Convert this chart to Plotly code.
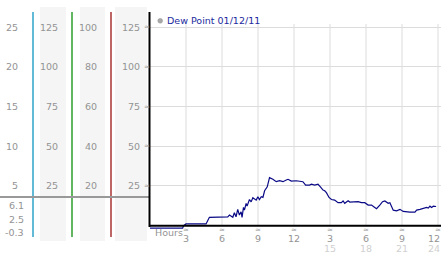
import plotly.graph_objects as go

# ---- data ----
hours = [0, 2.72, 2.8, 3.0, 4.67, 4.95, 6.48, 6.62, 6.9, 7.03, 7.17, 7.31, 7.45, 7.59, 7.67, 7.79,
         7.87, 8.01, 8.09, 8.29, 8.43, 8.57, 8.85, 8.99, 9.12, 9.27, 9.41, 9.55, 9.77, 9.96, 10.24,
         10.52, 10.8, 11.08, 11.36, 11.5, 11.78, 12.05, 12.19, 12.74, 12.97, 13.3, 13.45, 13.72,
         14.0, 14.2, 14.42, 14.56, 14.7, 14.92, 15.12, 15.39, 15.67, 15.95, 16.09, 16.23, 16.51,
         16.65, 17.06, 17.34, 17.62, 17.9, 18.18, 18.46, 18.73, 18.88, 19.15, 19.38, 19.57, 19.85,
         19.99, 20.13, 20.27, 20.55, 20.83, 21.1, 21.38, 21.66, 22.08, 22.22, 22.5, 22.77, 23.05,
         23.19, 23.33, 23.47, 23.61, 23.84]
dew_point = [-1.5, -1.5, 0, 1.1, 1.1, 5.3, 5.6, 6.7, 5.3, 8.2, 5.6, 10.3, 6.7, 8.8, 5.3, 11.5,
             9.8, 14, 12.3, 16.5, 15, 17.6, 16.1, 18.2, 16.5, 18.2, 17.8, 22, 24.5, 30.2, 29.2,
             27.7, 28.3, 27.7, 28.8, 29.2, 28.1, 28.3, 28.3, 27.7, 25.6, 25.6, 26.1, 25.6,
             26.1, 24.5, 22.4, 22, 20.8, 17.8, 16.5, 16.1, 14.5, 14.5, 15.6, 14.1, 15.7,
             14.9, 14.9, 15.1, 14.5, 14.5, 13.0, 13.0, 11.5, 10.7, 13.0, 15.1, 15.6, 14.1,
             14.5, 11.5, 9.8, 9.4, 10.3, 9.0, 8.6, 8.6, 8.6, 9.8, 10.3, 10.7, 11.5,
             11.1, 12.3, 11.5, 12.3, 12.1]

grid_vals = [25, 50, 75, 100, 125]
col1_labels = ["5", "10", "15", "20", "25"]
col2_labels = ["25", "50", "75", "100", "125"]
col3_labels = ["20", "40", "60", "80", "100"]
col4_labels = ["25", "50", "75", "100", "125"]
extra_labels = ["6.1", "2.5", "-0.3"]
hour_ticks = [3, 6, 9, 12, 15, 18, 21, 24]
hour_labels = ["3", "6", "9", "12", "3", "6", "9", "12"]
hour_labels2 = ["15", "18", "21", "24"]
series_name = "Dew Point 01/12/11"

W, H = 442, 253
def py(px):
    return (H - px) / H
def pxx(px):
    return px / W

FONT = "DejaVu Sans"
GREY = "#939393"

fig = go.Figure()
fig.add_trace(go.Scatter(x=hours, y=dew_point, mode="lines",
                         line=dict(color="#0a0a86", width=1.2), showlegend=False,
                         cliponaxis=False))

shapes = []
annots = []

# left column backgrounds
for x0, x1 in [(40, 66), (80, 105), (115, 147)]:
    shapes.append(dict(type="rect", xref="paper", yref="paper", x0=pxx(x0), x1=pxx(x1),
                       y0=py(241), y1=py(7), fillcolor="#f5f5f5", line=dict(width=0), layer="below"))
# coloured vertical lines
for xp, col in [(33, "#2fa3c8"), (72, "#2e9e2e"), (111, "#a83232")]:
    shapes.append(dict(type="line", xref="paper", yref="paper", x0=pxx(xp), x1=pxx(xp),
                       y0=py(237), y1=py(12), line=dict(color=col, width=1.5)))
# separator
shapes.append(dict(type="line", xref="paper", yref="paper", x0=0, x1=pxx(150),
                   y0=py(197), y1=py(197), line=dict(color="#999999", width=2)))
# vertical grid lines
for h in hour_ticks:
    shapes.append(dict(type="line", xref="x", yref="y", x0=h, x1=h, y0=0, y1=126.9,
                       line=dict(color="#dcdcdc", width=1), layer="below"))
# axes
shapes.append(dict(type="line", xref="paper", yref="paper", x0=pxx(149.5), x1=pxx(149.5),
                   y0=py(227), y1=py(12), line=dict(color="black", width=2)))
shapes.append(dict(type="line", xref="x", yref="y", x0=0, x1=24.25, y0=0, y1=0,
                   line=dict(color="black", width=2)))
# legend marker
shapes.append(dict(type="circle", xref="paper", yref="paper", x0=pxx(157.8), x1=pxx(162.6),
                   y0=py(23.2), y1=py(18.4), fillcolor="#a8a8a8", line=dict(color="#909090", width=0.5)))

def txt(x, y, s, xref="paper", yref="paper", xanchor="right", color=GREY, size=9.5):
    annots.append(dict(x=x, y=y, xref=xref, yref=yref, text=s, showarrow=False,
                       xanchor=xanchor, yanchor="middle", font=dict(family=FONT, size=size, color=color)))

for v, a, b, c, d in zip(grid_vals, col1_labels, col2_labels, col3_labels, col4_labels):
    txt(pxx(20), v, a, yref="y")
    txt(pxx(60), v, b, yref="y")
    txt(pxx(99), v, c, yref="y")
    txt(pxx(142), v, d, yref="y")
    txt(pxx(146.5), v, "≈", yref="y", xanchor="center", color="#a0a0a0", size=7)

for s, ypx in zip(extra_labels, [205, 219, 232]):
    txt(pxx(26), py(ypx), s)

n = len(hour_ticks)
for i, (h, s) in enumerate(zip(hour_ticks, hour_labels)):
    if i == n - 1:
        txt(1.0, py(238.5), s, xanchor="right")
    else:
        txt(h, py(238.5), s, xref="x", xanchor="center")
    txt(h, py(229.5), "≈", xref="x", xanchor="center", color="#a0a0a0", size=7)
m = len(hour_labels2)
for i, (h, s) in enumerate(zip(hour_ticks[4:], hour_labels2)):
    if i == m - 1:
        txt(1.0, py(248), s, xanchor="right", color="#d0d0d0")
    else:
        txt(h, py(248), s, xref="x", xanchor="center", color="#d0d0d0")

txt(pxx(153), py(232), "Hours", xanchor="left")
txt(pxx(165), py(20.7), series_name, xanchor="left", color="#1c2aa0")

fig.update_layout(
    width=W, height=H, margin=dict(l=0, r=0, t=0, b=0),
    paper_bgcolor="white", plot_bgcolor="white",
    shapes=shapes, annotations=annots,
    xaxis=dict(domain=[pxx(150), pxx(441)], range=[0, 24.25], showgrid=False,
               zeroline=False, showticklabels=False, showline=False, fixedrange=True),
    yaxis=dict(domain=[py(228.9), py(24)], range=[-2, 126.9], tickvals=grid_vals,
               showgrid=True, gridcolor="#dcdcdc", gridwidth=1, zeroline=False,
               showticklabels=False, showline=False, fixedrange=True),
    showlegend=False,
)

fig.write_html("out.html")
